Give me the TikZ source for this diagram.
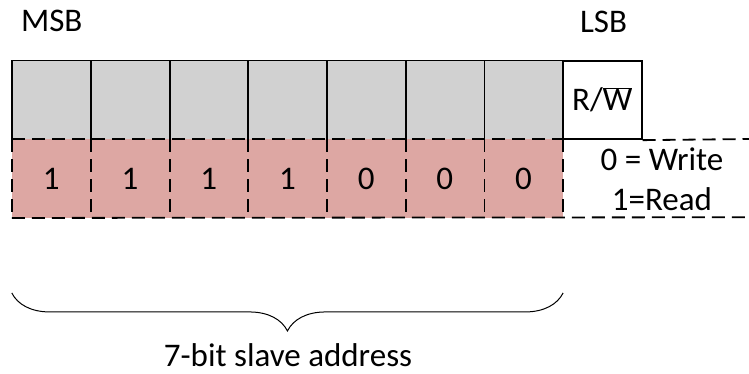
\documentclass[tikz,border=0pt]{standalone}
\usepackage{fontspec}
\setmainfont{Carlito}
\usetikzlibrary{decorations.pathreplacing}
\definecolor{addrgray}{HTML}{D1D1D1}
\definecolor{addrpink}{HTML}{DDA7A3}
\begin{document}
\begin{tikzpicture}[x=1pt, y=-1pt, font=\fontsize{33}{40}\selectfont,
  cell/.style={minimum width=78.7pt, minimum height=78.5pt, inner sep=0pt},
  topcell/.style={cell, fill=addrgray},
  bitcell/.style={cell, fill=addrpink},
  solidline/.style={line width=1.8pt},
  dashline/.style={line width=1.8pt, dash pattern=on 13pt off 7pt}]
  \useasboundingbox (0,0) rectangle (749,374);
  % upper row, gray
  \node[topcell] (g1) at (51.35,100) {};
  \node[topcell] (g2) at (130.05,100) {};
  \node[topcell] (g3) at (208.75,100) {};
  \node[topcell] (g4) at (287.45,100) {};
  \node[topcell] (g5) at (366.15,100) {};
  \node[topcell] (g6) at (444.85,100) {};
  \node[topcell] (g7) at (523.55,100) {};
  \node[cell, draw, solidline] (rw) at (602.25,100) {R/$\overline{\mbox{W}}$};
  % lower row, address bits
  \node[bitcell] (b1) at (51.35,178.5) {1};
  \node[bitcell] (b2) at (130.05,178.5) {1};
  \node[bitcell] (b3) at (208.75,178.5) {1};
  \node[bitcell] (b4) at (287.45,178.5) {1};
  \node[bitcell] (b5) at (366.15,178.5) {0};
  \node[bitcell] (b6) at (444.85,178.5) {0};
  \node[bitcell] (b7) at (523.55,178.5) {0};
  \node[align=center] (rwtxt) at (662,179) {0 = Write\\1=Read};
  \node (msb) at (51.7,21) {MSB};
  \node (lsb) at (603.5,21.5) {LSB};
  \coordinate (rtop) at (749,139);
  \coordinate (rbot) at (749,217.25);
  % solid outline of the gray row
  \draw[solidline] (g1.south west) |- (g7.north east);
  \foreach \i in {1,...,6}
    \draw[solidline] (g\i.north east) -- (g\i.south east);
  % dashed grid of the bits
  \draw[dashline] (b1.north west) -- (b7.north east);
  \draw[dashline] (rw.south east) -- (rtop);
  \draw[dashline] (b1.south west) -- (rbot);
  \draw[dashline] (b1.north west) -- (b1.south west);
  \foreach \i in {1,...,7}
    \draw[dashline] (b\i.north east) -- (b\i.south east);
  % brace under the address
  \draw[line width=1pt, decorate, decoration={brace, mirror, amplitude=38pt}]
    ([yshift=-75pt]b1.south west) -- ([yshift=-75pt]b7.south east);
  \node[anchor=base, inner sep=0pt] (addr) at (288,366.5) {7-bit slave address};
\end{tikzpicture}
\end{document}
